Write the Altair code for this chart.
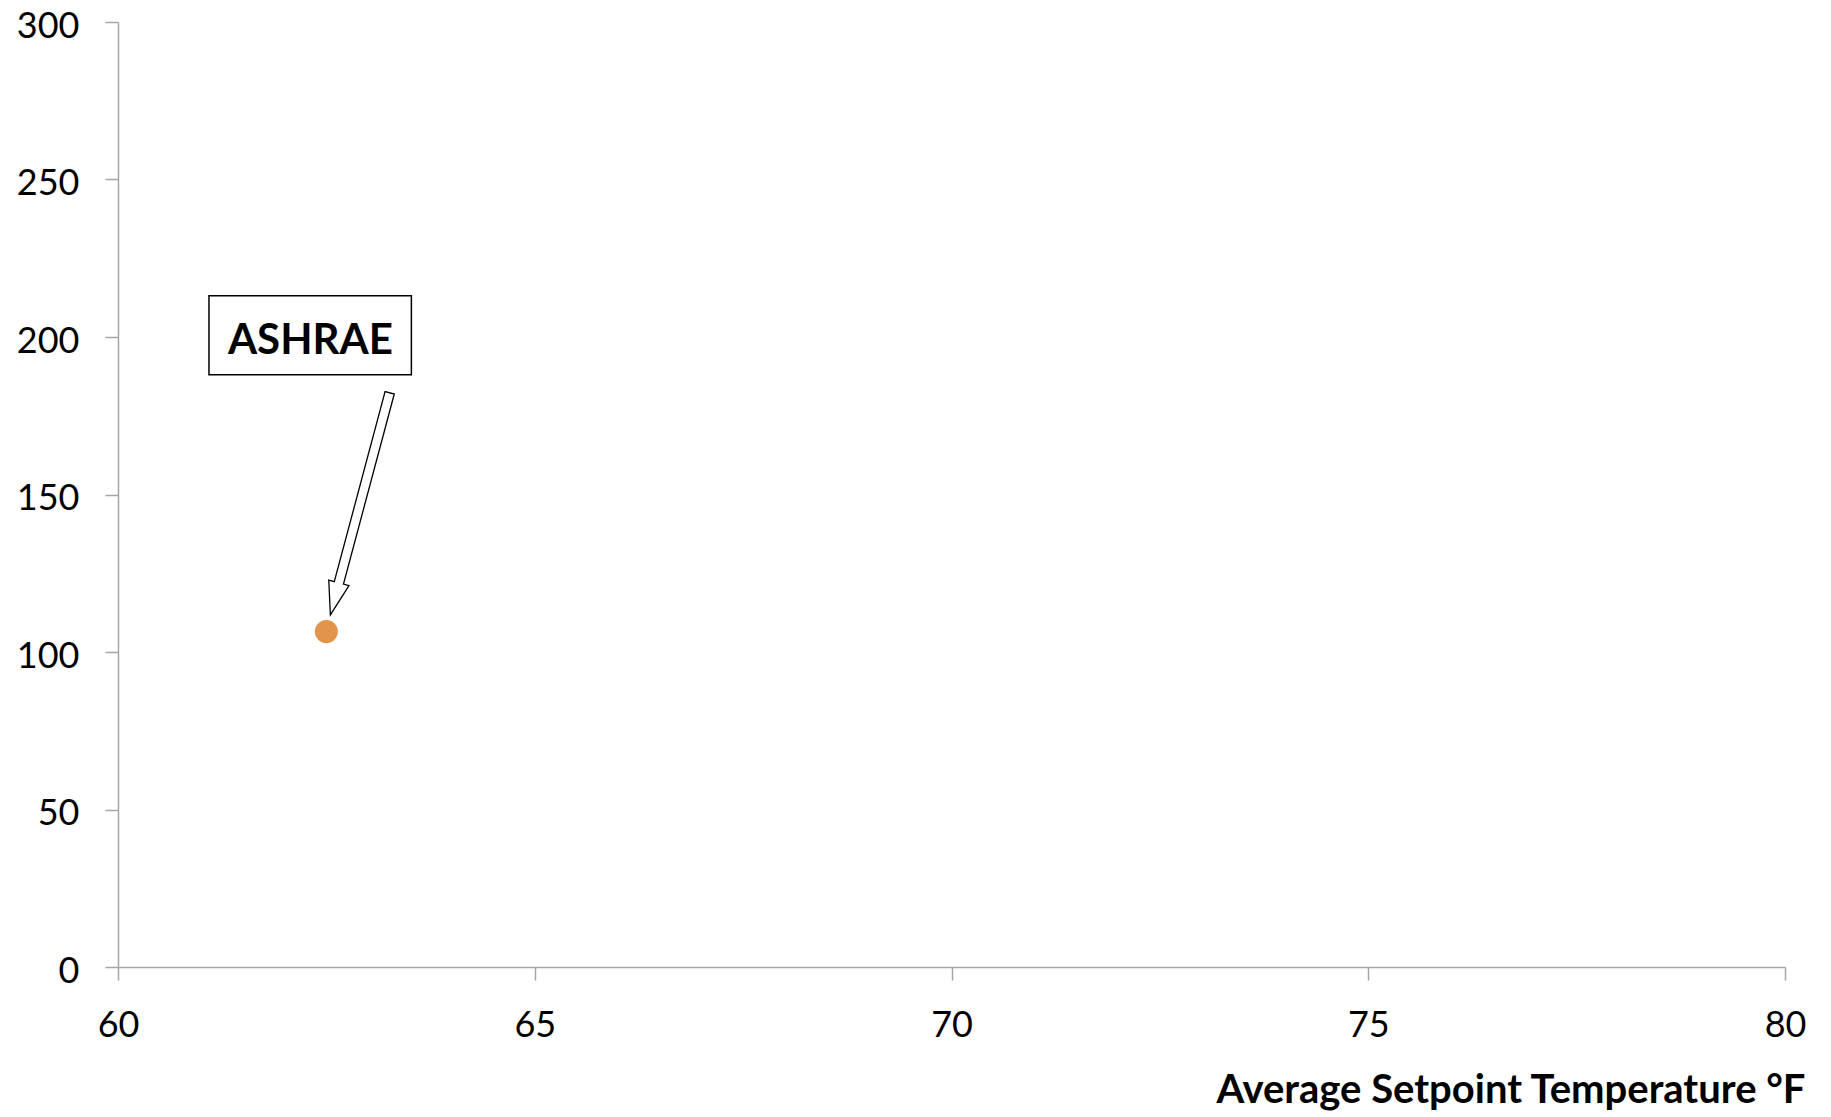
import altair as alt
import pandas as pd

# Data
series_names = ["ASHRAE"]
setpoint_temp = [62.5]
values = [106.5]
x_ticks = [60, 65, 70, 75, 80]
y_ticks = [0, 50, 100, 150, 200, 250, 300]

df = pd.DataFrame({"name": series_names, "temp": setpoint_temp, "value": values})

FONT = "Lato"
GRAY = "#A6A6A6"

x_enc = alt.X(
    "temp:Q",
    scale=alt.Scale(domain=[60, 80], nice=False, zero=False),
    axis=alt.Axis(
        values=x_ticks,
        title="Average Setpoint Temperature °F",
        titleFont=FONT, titleFontSize=40, titleFontWeight="bold", titleColor="black",
        titleAlign="right", titleAnchor="end", titleX=1687, titleY=123, titleBaseline="middle",
        labelFont=FONT, labelFontSize=36, labelColor="black", labelPadding=28,
        grid=False, domainColor=GRAY, domainWidth=1.5, tickColor=GRAY, tickWidth=1.5, tickSize=13,
        labelFlush=False,
    ),
)
y_enc = alt.Y(
    "value:Q",
    scale=alt.Scale(domain=[0, 300], nice=False),
    axis=alt.Axis(
        values=y_ticks, title=None,
        labelFont=FONT, labelFontSize=36, labelColor="black", labelPadding=26, labelOffset=4,
        grid=False, domainColor=GRAY, domainWidth=1.5, tickColor=GRAY, tickWidth=1.5, tickSize=13,
        labelFlush=False,
    ),
)

base = alt.Chart(df).encode(x=x_enc, y=y_enc)

box_path = "M-1.174,-3.357L0.85,-3.357L0.85,-2.567L-1.174,-2.567Z"
arrow_path = ("M0.679,-2.375L0.171,-0.474L0.226,-0.459L0.04,-0.167"
              "L0.024,-0.513L0.079,-0.498L0.587,-2.399Z")

box = base.mark_point(shape=box_path, size=40000, filled=True, fill="white",
                      stroke="black", strokeWidth=1.5, opacity=1)
label = base.mark_text(font=FONT, fontSize=42, fontWeight="bold", color="black",
                       dx=-16, dy=-291, align="center", baseline="middle").encode(text="name:N")
arrow = base.mark_point(shape=arrow_path, size=40000, filled=True, fill="white",
                        stroke="black", strokeWidth=1.3, opacity=1)
dot = base.mark_circle(size=531, color="#E2944B", opacity=1)

chart = alt.layer(box, label, arrow, dot).properties(
    width=1667, height=945,
    padding={"left": 110, "top": 14, "right": 30, "bottom": 146},
    autosize=alt.AutoSizeParams(type="none"),
    view=alt.ViewBackground(stroke="transparent", strokeWidth=0),
).configure_view(strokeWidth=0, stroke="transparent").configure(background="white")

chart.save("out.html", embed_options={"renderer": "svg", "actions": False})
